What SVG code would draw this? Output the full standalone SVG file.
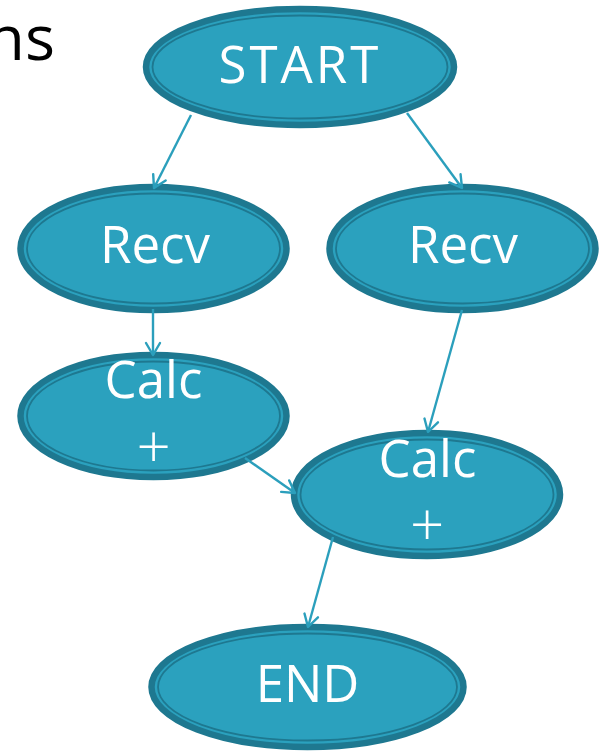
<svg xmlns="http://www.w3.org/2000/svg" width="607" height="751" viewBox="0 0 607 751">
  <style>
    .band { fill: #2ba1be; stroke: #1e7890; stroke-width: 6.5; }
    .inner { fill: none; stroke: #1e7890; stroke-width: 1.8; }
    .label { font-family: "Open Sans", "DejaVu Sans", sans-serif; font-size: 51px; fill: #ffffff; text-anchor: middle; }
    .plus { font-size: 60px; font-weight: 300; }
    .edge { fill: none; stroke: #2b9fbc; stroke-width: 2.4; marker-end: url(#arrow); }
    .title { font-family: "Open Sans", "DejaVu Sans", sans-serif; font-size: 63px; fill: #000000; text-anchor: end; }
  </style>
  <defs>
    <marker id="arrow" markerUnits="userSpaceOnUse" markerWidth="20" markerHeight="20" viewBox="-16 -10 20 20" refX="0" refY="0" orient="auto">
      <path d="M-12,-7 L0,0 L-12,7" fill="none" stroke="#2b9fbc" stroke-width="2.4" stroke-linecap="round" stroke-linejoin="round"/>
    </marker>
  </defs>

  <text class="title" x="55" y="60">ns</text>

  <g id="start">
    <ellipse class="band" cx="300" cy="67" rx="154" ry="58"/>
    <ellipse class="inner" cx="300" cy="67" rx="147.5" ry="51.5"/>
    <text class="label" x="300" y="83" letter-spacing="3">START</text>
  </g>

  <g id="recv-left">
    <ellipse class="band" cx="153.5" cy="248.5" rx="133" ry="61.5"/>
    <ellipse class="inner" cx="153.5" cy="248.5" rx="126.5" ry="55"/>
    <text class="label" x="155" y="263">Recv</text>
  </g>

  <g id="recv-right">
    <ellipse class="band" cx="462.5" cy="248.5" rx="133" ry="61.5"/>
    <ellipse class="inner" cx="462.5" cy="248.5" rx="126.5" ry="55"/>
    <text class="label" x="463" y="263">Recv</text>
  </g>

  <g id="calc-left">
    <ellipse class="band" cx="153.5" cy="416" rx="133" ry="61"/>
    <ellipse class="inner" cx="153.5" cy="416" rx="126.5" ry="54.5"/>
    <text class="label" x="153.5" y="398">Calc<tspan class="plus" x="153.5" y="468">+</tspan></text>
  </g>

  <g id="calc-right">
    <ellipse class="band" cx="427" cy="494.5" rx="133" ry="61.5"/>
    <ellipse class="inner" cx="427" cy="494.5" rx="126.5" ry="55"/>
    <text class="label" x="427.5" y="477">Calc<tspan class="plus" x="427" y="546">+</tspan></text>
  </g>

  <g id="end">
    <ellipse class="band" cx="307.5" cy="687" rx="156" ry="60"/>
    <ellipse class="inner" cx="307.5" cy="687" rx="149.5" ry="53.5"/>
    <text class="label" x="307.5" y="702">END</text>
  </g>

  <g id="connectors">
    <line class="edge" x1="191" y1="115" x2="154" y2="188"/>
    <line class="edge" x1="407" y1="113" x2="462" y2="188"/>
    <line class="edge" x1="153" y1="309" x2="153" y2="355"/>
    <line class="edge" x1="462" y1="310" x2="428" y2="432"/>
    <line class="edge" x1="245" y1="458" x2="295" y2="493"/>
    <line class="edge" x1="333" y1="537" x2="308" y2="627"/>
  </g>
</svg>
